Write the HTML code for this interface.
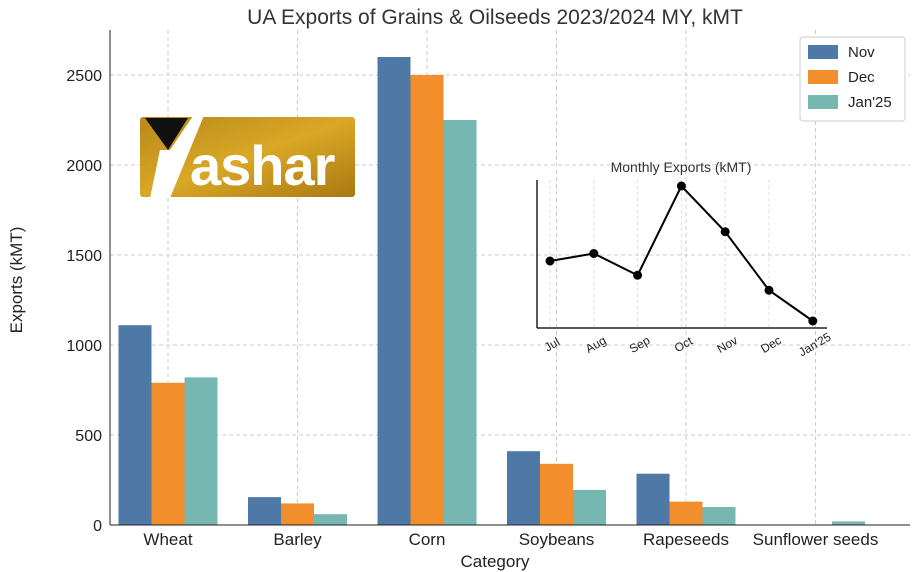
<!DOCTYPE html>
<html><head><meta charset="utf-8"><style>
html,body{margin:0;padding:0;background:#fff;}
svg{display:block;font-family:"Liberation Sans","DejaVu Sans",sans-serif;}
</style></head><body>
<svg id="chart" width="913" height="572" viewBox="0 0 913 572">
<text x="495" y="24" text-anchor="middle" font-size="21" fill="#333">UA Exports of Grains &amp; Oilseeds 2023/2024 MY, kMT</text>
<g id="grid"></g>
<g id="bars"></g>
<g id="axes"></g>
<text x="495" y="567" text-anchor="middle" font-size="17" fill="#222">Category</text>
<text transform="translate(22,280) rotate(-90)" text-anchor="middle" font-size="17" fill="#222">Exports (kMT)</text>
<g>
<defs><linearGradient id="gold" x1="0" y1="0" x2="1" y2="1"><stop offset="0" stop-color="#b8881a"/><stop offset="0.5" stop-color="#d9a826"/><stop offset="1" stop-color="#a87812"/></linearGradient></defs>
<rect x="140" y="117" width="215" height="80" rx="3" fill="url(#gold)"/>
<polygon points="145,118 188,118 168,150" fill="#111"/>
<polygon points="160,150 170,150 195,113 205,113 170,198 150,198" fill="#fff"/>
<text x="190" y="185" font-size="56" font-weight="bold" fill="#fff" font-family="Liberation Sans Narrow,Liberation Sans,sans-serif" letter-spacing="-1">ashar</text>
</g>
<g id="legend">
<rect x="800" y="37" width="105" height="84" fill="#fff" stroke="#ccc" rx="3"/>
</g>
<g id="inset"></g>
</svg>
<script>
const categories=["Wheat","Barley","Corn","Soybeans","Rapeseeds","Sunflower seeds"];
const seriesNames=["Nov","Dec","Jan'25"];
const novValues=[1110,155,2600,410,285,0];
const decValues=[790,120,2500,340,130,0];
const janValues=[820,60,2250,195,100,20];
const yTicks=[0,500,1000,1500,2000,2500];
const insetMonths=["Jul","Aug","Sep","Oct","Nov","Dec","Jan'25"];
const insetValues=[2700,2800,2510,3700,3090,2310,1900];

const NS="http://www.w3.org/2000/svg";
function mk(tag,attrs,parent){const e=document.createElementNS(NS,tag);for(const k in attrs)e.setAttribute(k,attrs[k]);parent.appendChild(e);return e;}
const colors=["#4e79a7","#f28e2b","#76b7b2"];
const series=[novValues,decValues,janValues];
const X0=110,X1=910,Y0=525,YT=30;
const yS=v=>Y0-v*0.18;
const xC=i=>168+i*129.5;
const bw=33;
const grid=document.getElementById('grid'),bars=document.getElementById('bars'),axes=document.getElementById('axes');
yTicks.forEach(t=>{
 const l=mk('line',{x1:X0,x2:X1,y1:yS(t),y2:yS(t),stroke:'#ccc','stroke-dasharray':'4,3'},grid);
 
 
 const tx=mk('text',{x:X0-8,y:yS(t)+6,'text-anchor':'end','font-size':16,fill:'#222'},axes);
 tx.textContent=t;
 
 
});
categories.forEach((c,i)=>{
 const l=mk('line',{x1:xC(i),x2:xC(i),y1:YT,y2:Y0,stroke:'#ccc','stroke-dasharray':'4,3'},grid);
 
 
 series.forEach((s,j)=>{
  const x=xC(i)+(j-1)*bw-bw/2;
  const r=mk('rect',{x:x,y:yS(s[i]),width:bw,height:Y0-yS(s[i]),fill:colors[j]},bars);
  
  
 });
 const tx=mk('text',{x:xC(i),y:Y0+20,'text-anchor':'middle','font-size':17,fill:'#222'},axes);
 tx.textContent=c;
 
 
});
mk('line',{x1:X0,x2:X0,y1:YT,y2:Y0,stroke:'#222','stroke-width':1},axes);
mk('line',{x1:X0,x2:X1,y1:Y0,y2:Y0,stroke:'#222','stroke-width':1},axes);
const lg=document.getElementById('legend');
seriesNames.forEach((n,j)=>{
 const r=mk('rect',{x:808,y:45+j*25,width:30,height:14,fill:colors[j]},lg);
 
 
 const t=mk('text',{x:848,y:57+j*25,'font-size':15,fill:'#222'},lg);
 t.textContent=n;
 
 
});
// inset
const ins=document.getElementById('inset');
const ix=i=>550+i*43.8;
const iy=v=>261-(v-2700)*0.075;
const it=mk('text',{x:681,y:172,'text-anchor':'middle','font-size':14,fill:'#333'},ins);
it.textContent='Monthly Exports (kMT)';


insetMonths.forEach((m,i)=>{
 mk('line',{x1:ix(i),x2:ix(i),y1:180,y2:328,stroke:'#ddd','stroke-dasharray':'3,3'},ins);
 const t=mk('text',{transform:`translate(${ix(i)+4},${348}) rotate(-30)`,'text-anchor':'middle','font-size':12,fill:'#222'},ins);
 t.textContent=m;
 
 
});
mk('line',{x1:537,x2:537,y1:180,y2:328,stroke:'#222','stroke-width':1.5},ins);
mk('line',{x1:537,x2:827,y1:328,y2:328,stroke:'#222','stroke-width':1.5},ins);
const pl=mk('polyline',{points:insetValues.map((v,i)=>ix(i)+','+iy(v)).join(' '),fill:'none',stroke:'#000','stroke-width':2},ins);


insetValues.forEach((v,i)=>{
 const c=mk('circle',{cx:ix(i),cy:iy(v),r:4.5,fill:'#000'},ins);
 
 
});
</script>
</body></html>
